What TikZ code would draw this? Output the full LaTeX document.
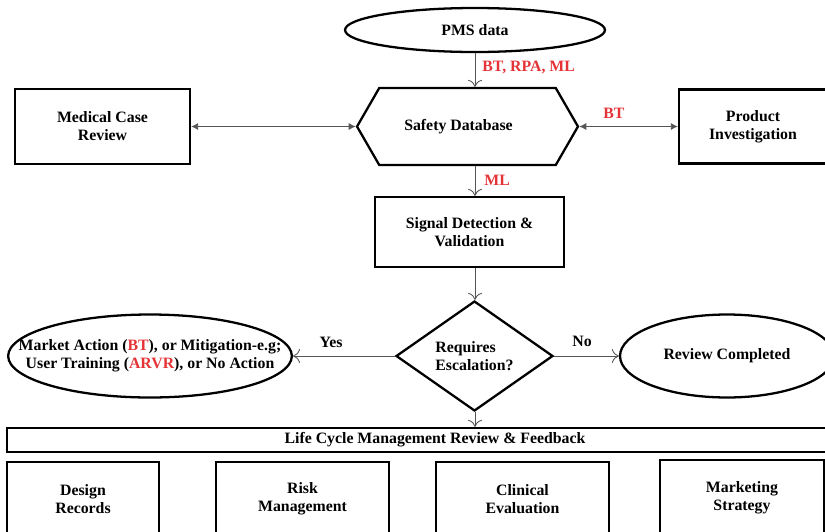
\documentclass[tikz,border=0pt]{standalone}
\usepackage{fontspec}
\setmainfont{Liberation Serif}
\usepackage{xcolor}
\usetikzlibrary{shapes.geometric, shapes.symbols, arrows.meta, positioning, calc}
\definecolor{tagred}{RGB}{228, 52, 56}
\definecolor{linegray}{RGB}{85, 85, 85}

\begin{document}
\begin{tikzpicture}[x=0.02cm, y=-0.02cm,
        every node/.style={font=\fontsize{9}{10.2}\selectfont\bfseries, align=center, inner sep=0pt},
        box/.style={draw, line width=1.3pt, rectangle},
        oval/.style={draw, line width=1.3pt, ellipse},
        flow/.style={draw=linegray, line width=0.5pt, -{To[length=4pt,width=8pt]}},
        link/.style={draw=linegray, line width=0.5pt, {Latex[length=4pt,width=4pt]}-{Latex[length=4pt,width=4pt]}},
        tag/.style={text=tagred, anchor=west}]
        \useasboundingbox (0,0) rectangle (825,531);
        \clip (0,0) rectangle (825,531);

        % Source data
        \node[oval, minimum width=5.2cm, minimum height=0.88cm] (pms) at (475,30) {PMS data};

        % Safety database with review partners
        \node[draw, line width=1.3pt, signal, signal to=west and east, signal pointer angle=120,
              minimum width=4.42cm, minimum height=1.54cm] (sdb) at (467.5,126.5) {Safety Database\hspace*{0.36cm}};
        \node[box, minimum width=3.5cm, minimum height=1.5cm] (mcr) at (102.5,126.5) {Medical Case\\Review};
        \node[box, minimum width=2.96cm, minimum height=1.48cm] (prod) at (753,126.5) {Product\\Investigation};

        % Signal handling
        \node[box, minimum width=3.78cm, minimum height=1.4cm] (sig) at (469.5,232) {Signal Detection \&\\Validation};
        \node[draw, line width=1.3pt, diamond, align=left, minimum width=3.14cm, minimum height=2.2cm] (esc) at (474.5,356) {Requires\\Escalation?};
        \node[oval, inner xsep=-0.62cm, minimum width=5.6cm, minimum height=1.66cm] (act) at (150,356)
            {Market Action (\textcolor{tagred}{BT}), or Mitigation-e.g;\\User Training (\textcolor{tagred}{ARVR}), or No Action};
        \node[oval, minimum width=4.28cm, minimum height=1.66cm] (done) at (727,356) {Review Completed};

        % Life cycle feedback
        \node[box, minimum width=17.12cm, minimum height=0.48cm] (lcm) at (435,440) {Life Cycle Management Review \& Feedback};
        \node[box, minimum width=3.04cm, minimum height=1.48cm] (dsgn) at (83,499) {Design\\Records};
        \node[box, minimum width=3.46cm, minimum height=1.48cm] (risk) at (302.5,499) {Risk\\Management};
        \node[box, minimum width=3.46cm, minimum height=1.48cm] (clin) at (522.5,499) {Clinical\\Evaluation};
        \node[box, minimum width=3.28cm, minimum height=1.52cm] (mkt) at (742,498) {Marketing\\Strategy};

        % Connectors
        \draw[flow] (pms.south) -- (pms.south |- sdb.north);
        \draw[link] (mcr.east) -- (sdb.west);
        \draw[link] (sdb.east) -- (prod.west);
        \draw[flow] (pms.south |- sdb.south) -- (pms.south |- sig.north);
        \draw[flow] (pms.south |- sig.south) -- (pms.south |- esc.north);
        \draw[flow] (esc.west) -- (act.east);
        \draw[flow] (esc.east) -- (done.west);
        \draw[flow] (pms.south |- esc.south) -- (pms.south |- lcm.north);

        % Labels
        \node[tag] (t1) at (482,68) {BT, RPA, ML};
        \node[tag] (t2) at (603,113) {BT};
        \node[tag] (t3) at (484,180) {ML};
        \node (yes) at (331,342) {Yes};
        \node (no) at (582,341) {No};
    \end{tikzpicture}
\end{document}
